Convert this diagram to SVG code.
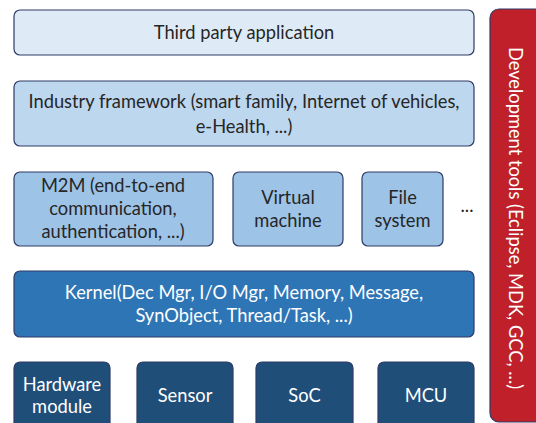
<svg xmlns="http://www.w3.org/2000/svg" width="536" height="423" viewBox="0 0 536 423">
<style>
.box{stroke:#2f3a66;stroke-width:1.2}
.t{font-family:Lato,"Liberation Sans",sans-serif;font-size:18.3px;text-anchor:middle}
.dk{fill:#262626}
.wh{fill:#ffffff}
</style>
<rect width="536" height="423" fill="#ffffff"/>
<g id="third-party">
<rect class="box" x="14" y="10" width="460" height="45" rx="6" fill="#deebf7"/>
<text class="t dk" x="244" y="39">Third party application</text>
</g>
<g id="industry">
<rect class="box" x="14" y="81" width="460" height="65" rx="6" fill="#bdd7ee"/>
<text class="t dk" x="244" y="108">Industry framework (smart family, Internet of vehicles,</text>
<text class="t dk" x="244" y="133">e-Health, ...)</text>
</g>
<g id="m2m">
<rect class="box" x="14" y="172" width="199" height="74" rx="6" fill="#9dc3e6"/>
<text class="t dk" x="113" y="192">M2M (end-to-end</text>
<text class="t dk" x="113" y="215">communication,</text>
<text class="t dk" x="113" y="238">authentication, ...)</text>
</g>
<g id="vm">
<rect class="box" x="233" y="172" width="110" height="74" rx="6" fill="#9dc3e6"/>
<text class="t dk" x="288" y="204">Virtual</text>
<text class="t dk" x="288" y="227">machine</text>
</g>
<g id="fs">
<rect class="box" x="362" y="172" width="81" height="74" rx="6" fill="#9dc3e6"/>
<text class="t dk" x="402.5" y="204">File</text>
<text class="t dk" x="402.5" y="227">system</text>
</g>
<g id="more">
<text class="t dk" x="467" y="212">...</text>
</g>
<g id="kernel">
<rect class="box" x="14" y="271" width="460" height="66" rx="6" fill="#2e75b6"/>
<text class="t wh" x="244" y="299">Kernel(Dec Mgr, I/O Mgr, Memory, Message,</text>
<text class="t wh" x="244" y="322">SynObject, Thread/Task, ...)</text>
</g>
<g id="hardware">
<rect class="box" x="14" y="362" width="96" height="70" rx="6" fill="#1f4e79"/>
<text class="t wh" x="62" y="391">Hardware</text>
<text class="t wh" x="62" y="413">module</text>
</g>
<g id="sensor">
<rect class="box" x="137" y="362" width="96" height="70" rx="6" fill="#1f4e79"/>
<text class="t wh" x="185" y="402">Sensor</text>
</g>
<g id="soc">
<rect class="box" x="256" y="362" width="97" height="70" rx="6" fill="#1f4e79"/>
<text class="t wh" x="304.5" y="402">SoC</text>
</g>
<g id="mcu">
<rect class="box" x="378" y="362" width="96" height="70" rx="6" fill="#1f4e79"/>
<text class="t wh" x="426" y="402">MCU</text>
</g>
<g id="dev-tools">
<rect class="box" x="490" y="9" width="60" height="413" rx="9" fill="#c0202a"/>
<text class="t wh" transform="translate(509,218) rotate(90)">Development tools (Eclipse, MDK, GCC, ...)</text>
</g>
<g id="connectors"></g>
</svg>
